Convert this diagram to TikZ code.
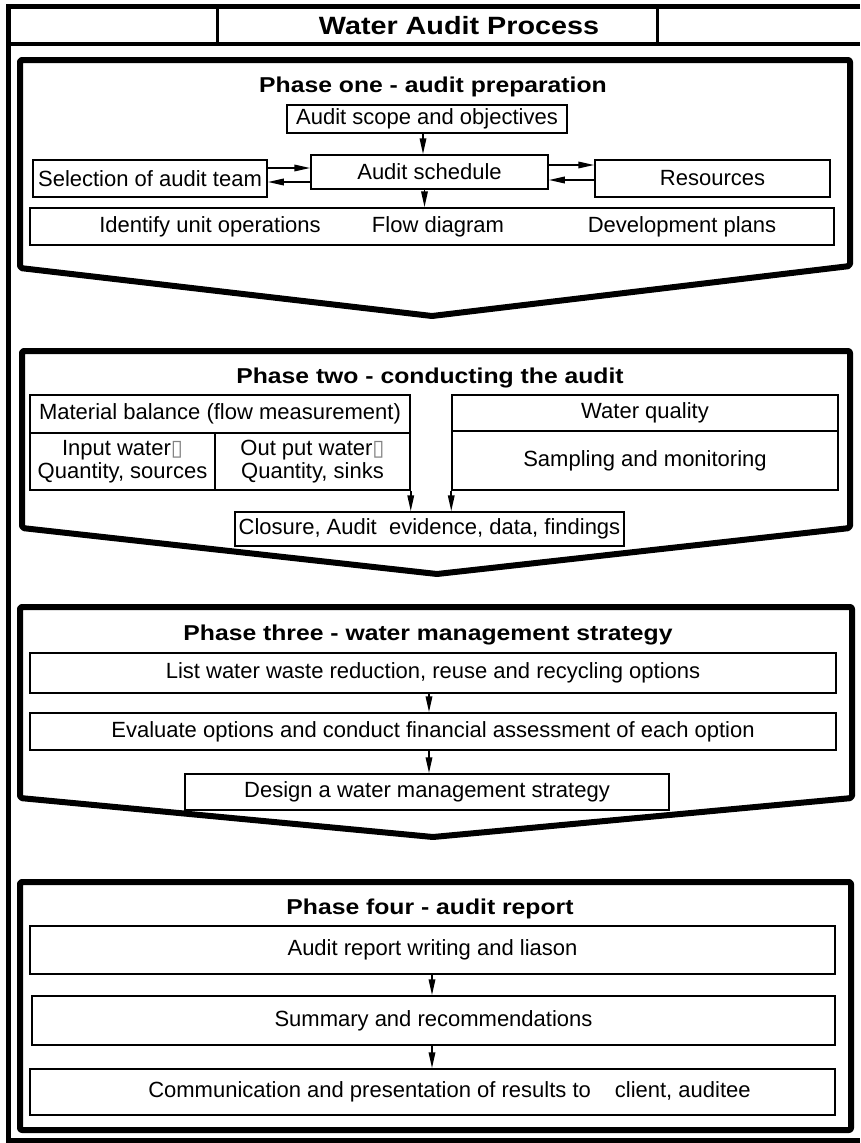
\documentclass[tikz,border=0pt]{standalone}
\usepackage{fontspec}
\setmainfont{Liberation Sans}
\newfontfamily\symfont{DejaVu Sans}
\newfontfamily\titlefont{Liberation Sans}[FakeStretch=1.15]
\usetikzlibrary{arrows.meta}
\newcommand{\missbox}{\textcolor{black!50}{\symfont ▯}}
\tikzset{
  phase/.style={line width=6pt, line join=round, rounded corners=2pt},
  frameline/.style={line width=5pt, line join=miter},
  box/.style={draw, line width=1.5pt, inner sep=0pt, align=center,
    font=\fontsize{22}{23.5}\selectfont},
  lbl/.style={inner sep=0pt, align=center, font=\fontsize{22}{23.5}\selectfont},
  ptitle/.style={inner sep=0pt, anchor=base, font=\titlefont\bfseries\fontsize{21.5}{25}\selectfont},
  arr/.style={line width=1.8pt, -{Triangle[length=16pt,width=6.5pt]}},
}
\begin{document}
\begin{tikzpicture}[x=1pt,y=-1pt]
\useasboundingbox (0,0) rectangle (860,1143);
% outer frame and title row
\draw[frameline] (860,6) -- (8,6) -- (8,1140) -- (860,1140);
\draw[line width=4pt] (8,44) -- (860,44);
\draw[line width=3pt] (217,6) -- (217,44);
\draw[line width=3pt] (657,6) -- (657,44);
\node[inner sep=0pt, anchor=base, font=\titlefont\bfseries\fontsize{25}{28}\selectfont] (title) at (459,34) {Water Audit Process};

% phase outlines
\draw[phase] (20,268) -- (20,60) -- (850,60) -- (850,266) -- (432,316) -- cycle;
\draw[phase] (22,528) -- (22,351) -- (850,351) -- (850,528) -- (437,574) -- cycle;
\draw[phase] (20,798) -- (20,607) -- (852,607) -- (852,798) -- (433,837) -- cycle;
\draw[phase] (20,882) rectangle (851,1130);

% phase one
\node[ptitle] (t1) at (433,92) {Phase one - audit preparation};
\node[box, minimum width=280pt, minimum height=28pt] (scope) at (427,119) {Audit scope and objectives};
\node[box, minimum width=237pt, minimum height=34pt] (sched) at (429.5,172) {Audit schedule};
\node[box, minimum width=234pt, minimum height=37pt] (sel) at (150,178.5) {Selection of audit team};
\node[box, minimum width=235pt, minimum height=37pt] (res) at (712.5,178.5) {Resources};
\node[box, minimum width=804pt, minimum height=37pt] (ident) at (432,226.5) {};
\node[lbl] (ident1) at (210,227) {Identify unit operations};
\node[lbl] (ident2) at (438,227) {Flow diagram};
\node[lbl] (ident3) at (682,227) {Development plans};
\coordinate (h1) at (0,168);
\coordinate (h2) at (0,182);
\coordinate (h3) at (0,165);
\coordinate (h4) at (0,180);
\coordinate (v1) at (423,0);
\coordinate (v2) at (424.5,0);
\draw[arr] (scope.south -| v1) -- (sched.north -| v1);
\draw[arr] (sched.south -| v2) -- (ident.north -| v2);
\draw[arr] (sel.east |- h1) -- (sched.west |- h1);
\draw[arr] (sched.west |- h2) -- (sel.east |- h2);
\draw[arr] (sched.east |- h3) -- (res.west |- h3);
\draw[arr] (res.west |- h4) -- (sched.east |- h4);

% phase two
\node[ptitle] (t2) at (430,383) {Phase two - conducting the audit};
\node[box, minimum width=380pt, minimum height=38pt] (mat) at (220,414) {Material balance (flow measurement)};
\node[box, minimum width=185pt, minimum height=57pt] (inp) at (122.5,461.5) {Input water\missbox\\Quantity, sources};
\node[box, minimum width=195pt, minimum height=57pt] (outp) at (312.5,461.5) {Out put water\missbox\\Quantity, sinks};
\node[box, minimum width=386pt, minimum height=36pt] (wq) at (645,413) {Water quality};
\node[box, minimum width=386pt, minimum height=59pt] (samp) at (645,460.5) {Sampling and monitoring};
\node[box, minimum width=389pt, minimum height=34pt] (clos) at (429.5,529) {Closure, Audit\ \ evidence, data, findings};
\draw[arr] (mat.east |- inp.south) -- (mat.east |- clos.north);
\draw[arr] (wq.west |- samp.south) -- (wq.west |- clos.north);

% phase three
\node[ptitle] (t3) at (428,640) {Phase three - water management strategy};
\node[box, minimum width=806pt, minimum height=40pt] (list) at (433,673) {List water waste reduction, reuse and recycling options};
\node[box, minimum width=806pt, minimum height=37pt] (eval) at (433,731.5) {Evaluate options and conduct financial assessment of each option};
\node[box, minimum width=484pt, minimum height=36pt] (design) at (427,792) {Design a water management strategy};
\coordinate (v3) at (429,0);
\draw[arr] (list.south -| v3) -- (eval.north -| v3);
\draw[arr] (eval.south -| v3) -- (design.north -| v3);

% phase four
\node[ptitle] (t4) at (430,914) {Phase four - audit report};
\node[box, minimum width=805pt, minimum height=48pt] (rep) at (432.5,950) {Audit report writing and liason};
\node[box, minimum width=803pt, minimum height=49pt] (summ) at (433.5,1020.5) {Summary and recommendations};
\node[box, minimum width=805pt, minimum height=46pt] (comm) at (432.5,1092) {\hspace{34pt}Communication and presentation of results to\hspace{24pt}client, auditee};
\coordinate (v4) at (432,0);
\draw[arr] (rep.south -| v4) -- (summ.north -| v4);
\draw[arr] (summ.south -| v4) -- (comm.north -| v4);
\end{tikzpicture}
\end{document}
